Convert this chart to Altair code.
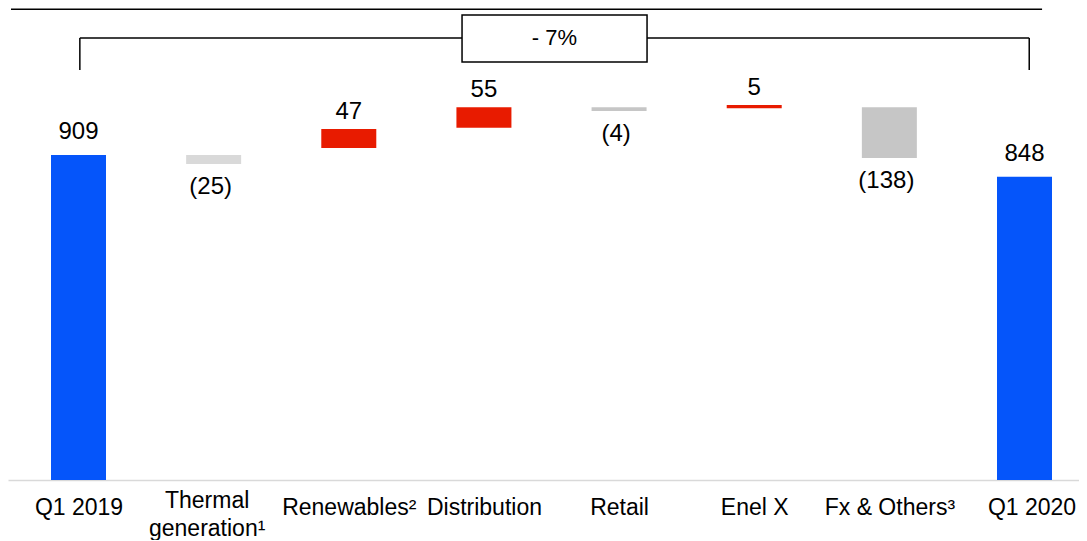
import json
import altair as alt
import pandas as pd

# ---- data ----
categories = ["Q1 2019", "Thermal|generation¹", "Renewables²", "Distribution",
              "Retail", "Enel X", "Fx & Others³", "Q1 2020"]
values = [909, -25, 47, 55, -4, 5, -138, 848]
kinds = ["total", "down", "up", "up", "down", "up", "down", "total"]
# bar levels as drawn in the picture (bottom / top of each floating bar)
bar_low = [0, 884, 929, 985, 1032, 1040, 901, 0]
bar_high = [909, 909, 982, 1043, 1043, 1049, 1043, 848]
change_label = "- 7%"

FONT = "Liberation Sans"

df = pd.DataFrame({
    "idx": list(range(len(categories))),
    "value": values,
    "kind": kinds,
    "low": bar_low,
    "high": bar_high,
})
df["label"] = [str(v) if v >= 0 else f"({-v})" for v in values]

xscale = alt.Scale(domain=[-0.52167, 7.40327], nice=False, zero=False, padding=0)
yscale = alt.Scale(domain=[0, 1320.3], nice=False, zero=False, padding=0)

label_expr = f"split({json.dumps(categories, ensure_ascii=False)}[datum.value], '|')"
multi_idx = [i for i, c in enumerate(categories) if "|" in c]
multi_test = f"indexof({json.dumps(multi_idx)}, datum.value) >= 0"
last_test = f"datum.value == {len(categories) - 1}"

x_axis = alt.Axis(
    values=list(range(len(categories))), labelExpr=label_expr, title=None,
    ticks=False, tickSize=0, grid=False, domainColor="#d9d9d9", domainWidth=1.5,
    labelFontSize=23, labelFont=FONT, labelColor="black", labelPadding=27,
    labelBaseline={"condition": {"test": multi_test, "value": "alphabetic"},
                   "value": "middle"},
    labelOffset={"condition": [{"test": multi_test, "value": -7},
                               {"test": last_test, "value": 7}],
                 "value": 0},
    labelLineHeight=28, labelOverlap=False,
    labelFlush=False, labelBound=False,
)

base = alt.Chart(df)

bars = base.mark_bar(size=55).encode(
    x=alt.X("idx:Q", scale=xscale, axis=x_axis),
    y=alt.Y("low:Q", scale=yscale, axis=None),
    y2="high:Q",
    color=alt.condition(
        "datum.idx == 1", alt.value("#D9D9D9"),
        alt.Color("kind:N", scale=alt.Scale(domain=["total", "up", "down"],
                                            range=["#0555FA", "#E81B00", "#C6C6C6"]),
                  legend=None)),
)

txt_total = base.transform_filter("datum.kind == 'total'").mark_text(
    font=FONT, fontSize=24, color="black", baseline="middle", dy=-23
).encode(x="idx:Q", y="high:Q", text="label:N")

txt_up = base.transform_filter("datum.kind == 'up'").mark_text(
    font=FONT, fontSize=24, color="black", baseline="middle", dy=-17
).encode(x="idx:Q", y="high:Q", text="label:N")

txt_down = base.transform_filter("datum.kind == 'down'").mark_text(
    font=FONT, fontSize=24, color="black", baseline="middle", dy=23, dx=-3
).encode(x="idx:Q", y="low:Q", text="label:N")

# ---- annotation: top line and bracket with change box ----
top_line = alt.Chart(pd.DataFrame({"idx": [-0.4995], "idx2": [7.13], "low": [1317]})).mark_rule(
    color="black", strokeWidth=1.5
).encode(x="idx:Q", x2="idx2:Q", y="low:Q")

bracket_h = alt.Chart(pd.DataFrame({"idx": [0.01], "idx2": [7.035], "low": [1236.4]})).mark_rule(
    color="black", strokeWidth=1.5
).encode(x="idx:Q", x2="idx2:Q", y="low:Q")

bracket_v = alt.Chart(pd.DataFrame({"idx": [0.01, 7.035], "low": [1147, 1147],
                                    "high": [1236.4, 1236.4]})).mark_rule(
    color="black", strokeWidth=1.5
).encode(x="idx:Q", y="low:Q", y2="high:Q")

box = alt.Chart(pd.DataFrame({"idx": [2.838], "idx2": [4.207], "low": [1169.2],
                              "high": [1300.7]})).mark_rect(
    fill="white", stroke="black", strokeWidth=1.5
).encode(x="idx:Q", x2="idx2:Q", y="low:Q", y2="high:Q")

box_text = alt.Chart(pd.DataFrame({"idx": [3.522], "low": [1236.4], "label": [change_label]})).mark_text(
    font=FONT, fontSize=22, color="black", baseline="middle", align="center"
).encode(x="idx:Q", y="low:Q", text="label:N")

chart = alt.layer(
    bars, txt_total, txt_up, txt_down, top_line, bracket_h, bracket_v, box, box_text
).properties(
    width=1071, height=472, background="white", padding=0,
).configure_view(stroke=None)

chart.save("out.html", embed_options={"renderer": "svg", "actions": False})
